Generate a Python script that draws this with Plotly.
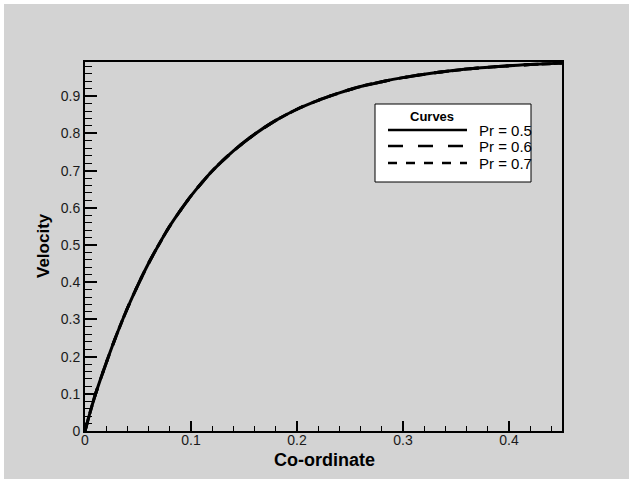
import plotly.graph_objects as go

# Data (all three Pr curves coincide)
coordinate = [0.0, 0.005, 0.01, 0.02, 0.03, 0.04, 0.05, 0.06, 0.07, 0.08, 0.09, 0.10,
              0.12, 0.14, 0.16, 0.18, 0.20, 0.22, 0.24, 0.26, 0.28, 0.30, 0.33,
              0.36, 0.39, 0.42, 0.45]
vel_pr05 = [0.0, 0.052, 0.100, 0.183, 0.260, 0.330, 0.393, 0.451, 0.503, 0.551, 0.593, 0.632,
            0.699, 0.753, 0.798, 0.835, 0.865, 0.889, 0.909, 0.926, 0.939, 0.950, 0.963,
            0.973, 0.980, 0.985, 0.989]
vel_pr06 = list(vel_pr05)
vel_pr07 = list(vel_pr05)
series_names = ["Pr = 0.5", "Pr = 0.6", "Pr = 0.7"]
x_ticks = [0, 0.1, 0.2, 0.3, 0.4]
x_ticklabels = ["0", "0.1", "0.2", "0.3", "0.4"]
y_ticks = [0, 0.1, 0.2, 0.3, 0.4, 0.5, 0.6, 0.7, 0.8, 0.9]
y_ticklabels = ["0", "0.1", "0.2", "0.3", "0.4", "0.5", "0.6", "0.7", "0.8", "0.9"]

GRAY = "#d3d3d3"
FONT = "Liberation Sans, Arial, sans-serif"
dashes = ["solid", "longdash", "dash"]

# plot-area geometry in pixels (for paper-coordinate decorations)
L, R, T, B = 85, 562, 62, 431
W, H = R - L, B - T


def px(x):
    return (x - L) / W


def py(y):
    return (B - y) / H


fig = go.Figure()
for name, ys, d in zip(series_names, [vel_pr05, vel_pr06, vel_pr07], dashes):
    fig.add_trace(go.Scatter(x=coordinate, y=ys, mode="lines", name=name,
                             line=dict(color="black", width=3, dash=d, shape="spline", smoothing=0.8),
                             showlegend=False))

# background panel with thin white frame
fig.add_shape(type="rect", xref="paper", yref="paper", x0=px(4), x1=px(629),
              y0=py(479), y1=py(4), fillcolor=GRAY, line=dict(width=0), layer="below")

# manual legend (Tecplot-style)
fig.add_shape(type="rect", xref="paper", yref="paper", x0=px(375), x1=px(531), y0=py(182), y1=py(104),
              fillcolor="white", line=dict(color="black", width=1))
fig.add_annotation(xref="paper", yref="paper", x=px(432), y=py(116), xanchor="center", yanchor="middle",
                   text="<b>Curves</b>", showarrow=False, font=dict(size=13, color="black", family=FONT))
row_y = [130, 146, 163]
for name, d, ry in zip(series_names, dashes, row_y):
    fig.add_shape(type="line", xref="paper", yref="paper", x0=px(388), x1=px(467),
                  y0=py(ry), y1=py(ry), line=dict(color="black", width=2.5, dash=d))
    fig.add_annotation(xref="paper", yref="paper", x=px(477), y=py(ry), xanchor="left", yanchor="middle",
                       text=name, showarrow=False, font=dict(size=15, color="black", family=FONT))

# axis titles
fig.add_annotation(xref="paper", yref="paper", x=px(324), y=py(460), xanchor="center", yanchor="middle",
                   text="<b>Co-ordinate</b>", showarrow=False, font=dict(size=18, color="black", family=FONT))
fig.add_annotation(xref="paper", yref="paper", x=px(43), y=py(246), xanchor="center", yanchor="middle",
                   text="<b>Velocity</b>", textangle=-90, showarrow=False,
                   font=dict(size=17, color="black", family=FONT))

axis_common = dict(showgrid=False, zeroline=False, showline=True, linecolor="black", linewidth=2,
                   mirror=True, ticks="inside", tickcolor="black", tickwidth=1.5,
                   tickfont=dict(size=14, color="#1a1a1a", family=FONT))

fig.update_xaxes(range=[0, 0.45], tickvals=x_ticks, ticktext=x_ticklabels, ticklen=10,
                 ticklabelstandoff=-5,
                 minor=dict(ticks="inside", dtick=0.02, ticklen=5, tickcolor="black", tickwidth=1),
                 **axis_common)
fig.update_yaxes(range=[0, 0.992], tickvals=y_ticks, ticktext=y_ticklabels, ticklen=12,
                 minor=dict(ticks="inside", dtick=0.02, ticklen=7, tickcolor="black", tickwidth=1),
                 **axis_common)

fig.update_layout(width=633, height=483, margin=dict(l=L, r=633 - R, t=T, b=483 - B),
                  paper_bgcolor="white", plot_bgcolor=GRAY, showlegend=False,
                  font=dict(family=FONT))
fig.write_html("out.html", config={"displayModeBar": False},
               post_script="document.body.style.margin='0';")
